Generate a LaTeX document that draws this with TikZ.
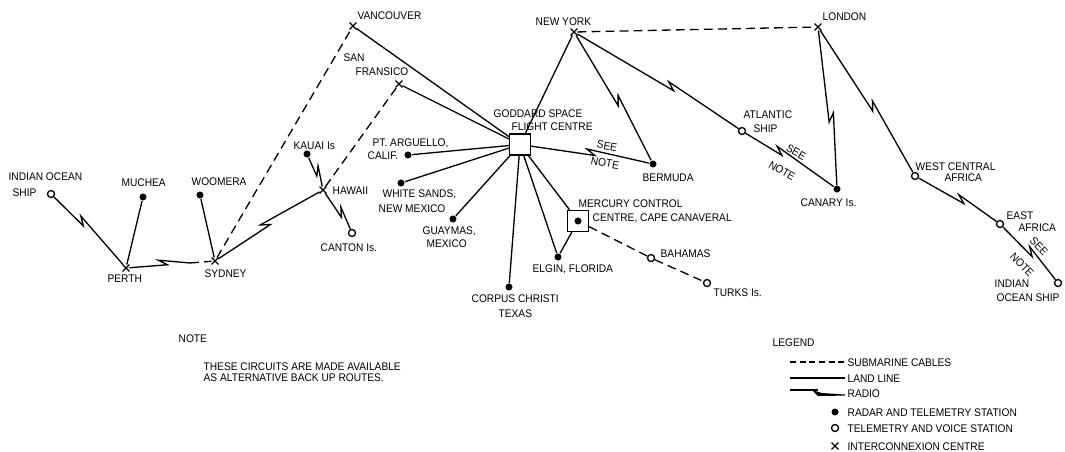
\documentclass[tikz,border=0pt]{standalone}
\usepackage{fontspec}
\setmainfont{Liberation Sans}[FakeStretch=0.92]
\usetikzlibrary{calc,shapes.misc}

\tikzset{
  radar/.style={circle, fill, inner sep=0pt, minimum size=4pt},
  voice/.style={circle, draw, fill=white, inner sep=0pt, minimum size=4pt},
  xcentre/.style={cross out, draw, inner sep=0pt, minimum size=3.2pt},
  hub/.style={rectangle, draw, inner sep=0pt, minimum size=11.9pt},
  lbl/.style={inner sep=0pt, anchor=base west},
  cable/.style={dash pattern=on 5pt off 3pt},
  radio/.style={to path={
      (\tikztostart) -- ($(\tikztostart)!#1!(\tikztotarget)!2.5pt!(\tikztotarget)$)
      -- ($(\tikztostart)!#1!(\tikztotarget)!-2.5pt!(\tikztotarget)!3pt!90:(\tikztotarget)$)
      -- (\tikztotarget) \tikztonodes}},
  radio/.default=0.5
}

\begin{document}
\begin{tikzpicture}[x=0.02cm, y=-0.02cm, line width=0.75pt,
                    font=\fontsize{6.3}{7.5}\selectfont]
\useasboundingbox (0,0) rectangle (1065,451);
\fill[white] (0,0) rectangle (1065,451);

% Stations of the network
\node[xcentre] (vanc) at (353,26) {};
\node[xcentre] (sanf) at (399,84) {};
\node[hub] (gsfc) at (520,144.5) {};
\node[radar] (ptarg) at (408,155) {};
\node[radar] (whites) at (401,183) {};
\node[radar] (guay) at (453,219) {};
\node[radar] (corpus) at (509,287) {};
\node[radar] (elgin) at (558,257) {};
\node[hub] (mcc) at (578,221) {};
\node[radar] (mccdot) at (578,221) {};
\node[voice] (bahamas) at (651,258) {};
\node[voice] (turks) at (707,283) {};
\node[radar] (bermuda) at (653,164) {};
\node[xcentre] (newyork) at (574,32) {};
\node[xcentre] (london) at (818,27) {};
\node[voice] (atlship) at (742,131) {};
\node[radar] (canary) at (837,189) {};
\node[voice] (wca) at (915,176) {};
\node[voice] (eafr) at (1000,224) {};
\node[voice] (iosr) at (1058,283) {};
\node[voice] (iosl) at (51,194) {};
\node[radar] (muchea) at (143,197) {};
\node[radar] (woomera) at (200,195) {};
\node[xcentre] (perth) at (126,268) {};
\node[xcentre] (sydney) at (215,261) {};
\node[xcentre] (hawaii) at (323,190) {};
\node[radar] (kauai) at (307,154) {};
\node[voice] (canton) at (352,233) {};
\coordinate (perthgap) at (190,263);

% Drawing submarine cables
\draw[cable] (sydney) -- (vanc);
\draw[cable] (hawaii) -- (sanf);
\draw[cable] (perthgap) -- (sydney);
\draw[cable] (newyork) -- (london);
\draw[cable] (mcc) -- (bahamas);
\draw[cable] (bahamas) -- (turks);

% Drawing land lines
\draw (vanc) -- (gsfc);
\draw (sanf) -- (gsfc);
\draw (ptarg) -- (gsfc);
\draw (whites) -- (gsfc);
\draw (guay) -- (gsfc);
\draw (corpus) -- (gsfc);
\draw (elgin) -- (gsfc);
\draw (mcc) -- (gsfc);
\draw (elgin) -- (mcc);
\draw (gsfc) -- (newyork);
\draw (muchea) -- (perth);
\draw (woomera) -- (sydney);

% Drawing radio links
\draw (gsfc) to[radio=0.53] (bermuda);
\draw (newyork) to[radio=0.53] (bermuda);
\draw (newyork) to[radio=0.57] (atlship);
\draw (atlship) to[radio=0.38] (canary);
\draw (london) to[radio=0.56] (canary);
\draw (london) to[radio=0.54] (wca);
\draw (wca) to[radio=0.53] (eafr);
\draw (eafr) to[radio=0.5] (iosr);
\draw (iosl) to[radio=0.39] (perth);
\draw (perth) to[radio=0.58] (perthgap);
\draw (sydney) to[radio=0.48] (hawaii);
\draw (kauai) to[radio=0.5] (hawaii);
\draw (hawaii) to[radio=0.55] (canton);

% Station names
\node[lbl] (tvanc) at (357,19) {VANCOUVER};
\node[lbl] (tsanf1) at (343,61) {SAN};
\node[lbl] (tsanf2) at (355,75) {FRANSICO};
\node[lbl] (tgsfc1) at (493,117) {GODDARD SPACE};
\node[lbl] (tgsfc2) at (511,130) {FLIGHT CENTRE};
\node[lbl] (tptarg1) at (372,146) {PT. ARGUELLO,};
\node[lbl] (tptarg2) at (367,159) {CALIF.};
\node[lbl] (twhites1) at (382,197) {WHITE SANDS,};
\node[lbl] (twhites2) at (378,212) {NEW MEXICO};
\node[lbl] (tguay1) at (422,234) {GUAYMAS,};
\node[lbl] (tguay2) at (426,247) {MEXICO};
\node[lbl] (tcorpus1) at (471,302) {CORPUS CHRISTI};
\node[lbl] (tcorpus2) at (498,317) {TEXAS};
\node[lbl] (telgin) at (532,272) {ELGIN, FLORIDA};
\node[lbl] (tmcc1) at (578,207) {MERCURY CONTROL};
\node[lbl] (tmcc2) at (592,221) {CENTRE, CAPE CANAVERAL};
\node[lbl] (tbahamas) at (660,257) {BAHAMAS};
\node[lbl] (tturks) at (713,296) {TURKS Is.};
\node[lbl] (tbermuda) at (642,181) {BERMUDA};
\node[lbl] (tnewyork) at (535,25) {NEW YORK};
\node[lbl] (tlondon) at (822,20) {LONDON};
\node[lbl] (tatl1) at (743,118) {ATLANTIC};
\node[lbl] (tatl2) at (753,132) {SHIP};
\node[lbl] (tcanary) at (800,206) {CANARY Is.};
\node[lbl] (twca1) at (915,170) {WEST CENTRAL};
\node[lbl] (twca2) at (944,181) {AFRICA};
\node[lbl] (teafr1) at (1006,219) {EAST};
\node[lbl] (teafr2) at (1018,231) {AFRICA};
\node[lbl] (tiosr1) at (994,287) {INDIAN};
\node[lbl] (tiosr2) at (996,301) {OCEAN SHIP};
\node[lbl] (tiosl1) at (8,180) {INDIAN OCEAN};
\node[lbl] (tiosl2) at (12,196) {SHIP};
\node[lbl] (tmuchea) at (121,186) {MUCHEA};
\node[lbl] (twoomera) at (191,185) {WOOMERA};
\node[lbl] (tperth) at (107,282) {PERTH};
\node[lbl] (tsydney) at (204,277) {SYDNEY};
\node[lbl] (thawaii) at (332,194) {HAWAII};
\node[lbl] (tkauai) at (293,149) {KAUAI Is};
\node[lbl] (tcanton) at (320,251) {CANTON Is.};

% See note marks
\node[rotate=-10, inner sep=0pt] (see1) at (607,146) {SEE};
\node[rotate=-10, inner sep=0pt] (note1) at (605,163) {NOTE};
\node[rotate=-30, inner sep=0pt] (see2) at (796,152) {SEE};
\node[rotate=-30, inner sep=0pt] (note2) at (782,171) {NOTE};
\node[rotate=-46, inner sep=0pt] (see3) at (1039,246) {SEE};
\node[rotate=-46, inner sep=0pt] (note3) at (1022,265) {NOTE};

% Note
\node[lbl] (tnote) at (178,342) {NOTE};
\node[lbl] (tnote1) at (203,370) {THESE CIRCUITS ARE MADE AVAILABLE};
\node[lbl] (tnote2) at (203,381) {AS ALTERNATIVE BACK UP ROUTES.};

% Legend
\node[lbl] (tlegend) at (772,346) {LEGEND};
\coordinate (lga) at (790,362); \coordinate (lgb) at (845,362);
\coordinate (lla) at (790,378); \coordinate (llb) at (845,378);
\coordinate (lra) at (790,390); \coordinate (lrb) at (818,390);
\draw[dash pattern=on 3.5pt off 2pt] (lga) -- (lgb);
\draw (lla) -- (llb);
\draw (lra) -- (lrb);
\fill (812,390) -- (822,393) -- (845,394.5) -- (845,395.6) -- (818,396) -- cycle;
\node[radar] (lradar) at (835,412) {};
\node[voice] (lvoice) at (835,428) {};
\node[xcentre] (lcentre) at (835,446) {};
\node[lbl] (tlg1) at (847,366) {SUBMARINE CABLES};
\node[lbl] (tlg2) at (847,382) {LAND LINE};
\node[lbl] (tlg3) at (847,397) {RADIO};
\node[lbl] (tlg4) at (847,416) {RADAR AND TELEMETRY STATION};
\node[lbl] (tlg5) at (847,432) {TELEMETRY AND VOICE STATION};
\node[lbl] (tlg6) at (847,450) {INTERCONNEXION CENTRE};
\end{tikzpicture}
\end{document}
